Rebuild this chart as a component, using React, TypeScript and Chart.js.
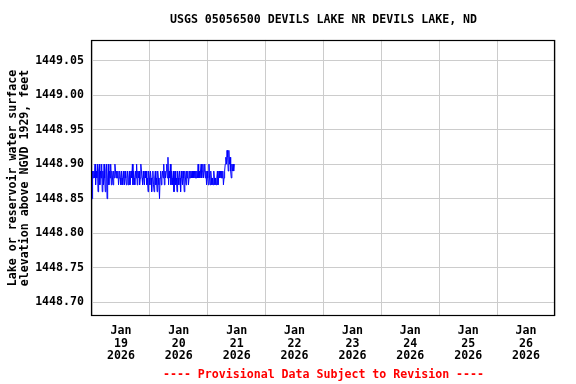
import React, { useEffect, useRef } from "react";
import { Chart, registerables } from "chart.js";

Chart.register(...registerables);

const chartTitle = "USGS 05056500 DEVILS LAKE NR DEVILS LAKE, ND";
const yAxisTitle = ["Lake or reservoir water surface", "elevation above NGVD 1929, feet"];
const footerText = "---- Provisional Data Subject to Revision ----";
const monthLabel = "Jan";
const yearLabel = "2026";
const dayLabels = ["19", "20", "21", "22", "23", "24", "25", "26"];
const yTickValues = [1448.7, 1448.75, 1448.8, 1448.85, 1448.9, 1448.95, 1449.0, 1449.05];
const yMin = 1448.68;
const yMax = 1449.08;
const intervalMinutes = 15;

// 15-minute lake elevation readings, starting Jan 19 2026 00:00
const elevation = [
  1448.85, 1448.89, 1448.88, 1448.89, 1448.88, 1448.90, 1448.87, 1448.89, 1448.88, 1448.90, 1448.86, 1448.89, 1448.90, 1448.87, 1448.89, 1448.88, 1448.90,
  1448.86, 1448.89, 1448.87, 1448.90, 1448.88, 1448.86, 1448.89, 1448.90, 1448.85, 1448.88, 1448.90, 1448.87, 1448.89, 1448.88, 1448.90, 1448.87, 1448.89,
  1448.88, 1448.87, 1448.89, 1448.88, 1448.90, 1448.89, 1448.88, 1448.89, 1448.88, 1448.89, 1448.87, 1448.88, 1448.89, 1448.88, 1448.87, 1448.89,
  1448.88, 1448.87, 1448.89, 1448.88, 1448.87, 1448.89, 1448.88, 1448.87, 1448.88, 1448.89, 1448.87, 1448.88, 1448.89, 1448.87, 1448.88, 1448.89, 1448.88,
  1448.90, 1448.87, 1448.89, 1448.88, 1448.87, 1448.89, 1448.88, 1448.90, 1448.87, 1448.89, 1448.88, 1448.89, 1448.87, 1448.88, 1448.90, 1448.89, 1448.88,
  1448.87, 1448.89, 1448.88, 1448.87, 1448.89, 1448.88, 1448.89, 1448.87, 1448.88, 1448.86, 1448.89, 1448.88, 1448.87, 1448.89, 1448.88, 1448.86,
  1448.88, 1448.89, 1448.87, 1448.86, 1448.88, 1448.89, 1448.87, 1448.88, 1448.86, 1448.89, 1448.88, 1448.87, 1448.85, 1448.88, 1448.89, 1448.87, 1448.88,
  1448.89, 1448.88, 1448.90, 1448.87, 1448.89, 1448.88, 1448.89, 1448.90, 1448.88, 1448.91, 1448.87, 1448.89, 1448.88, 1448.90, 1448.87, 1448.89,
  1448.88, 1448.87, 1448.89, 1448.86, 1448.88, 1448.89, 1448.87, 1448.88, 1448.86, 1448.89, 1448.88, 1448.87, 1448.89, 1448.88, 1448.86, 1448.89, 1448.88,
  1448.87, 1448.89, 1448.88, 1448.86, 1448.89, 1448.88, 1448.87, 1448.89, 1448.88, 1448.89, 1448.87, 1448.88, 1448.89, 1448.88, 1448.89, 1448.88, 1448.89,
  1448.88, 1448.89, 1448.88, 1448.89, 1448.88, 1448.89, 1448.88, 1448.89, 1448.88, 1448.90, 1448.88, 1448.89, 1448.88, 1448.89, 1448.90, 1448.88,
  1448.89, 1448.90, 1448.88, 1448.89, 1448.90, 1448.88, 1448.89, 1448.87, 1448.89, 1448.88, 1448.87, 1448.90, 1448.88, 1448.87, 1448.89, 1448.88, 1448.87,
  1448.88, 1448.87, 1448.89, 1448.88, 1448.87, 1448.88, 1448.87, 1448.88, 1448.89, 1448.87, 1448.88, 1448.89, 1448.88, 1448.89, 1448.88, 1448.89, 1448.88,
  1448.89, 1448.87, 1448.88, 1448.89, 1448.90, 1448.91, 1448.90, 1448.92, 1448.91, 1448.89, 1448.92, 1448.90, 1448.91, 1448.89, 1448.88, 1448.90,
  1448.89, 1448.90, 1448.89, 1448.90,
];

const FONT = "'DejaVu Sans Mono', monospace";

const frameBorder = {
  id: "frameBorder",
  afterDraw(chart: any) {
    const { ctx, chartArea } = chart;
    const l = Math.round(chartArea.left) - 0.5;
    const t = Math.round(chartArea.top) + 0.5;
    const r = Math.round(chartArea.right) - 0.5;
    const b = Math.round(chartArea.bottom) - 0.5;
    ctx.save();
    ctx.strokeStyle = "#000000";
    ctx.lineWidth = 1.2;
    ctx.strokeRect(l, t, r - l, b - t);
    ctx.restore();
  },
};

export default function App() {
  const canvasRef = useRef<HTMLCanvasElement | null>(null);

  useEffect(() => {
    if (!canvasRef.current) return;
    const points = elevation.map((v, i) => ({ x: (i * intervalMinutes) / 1440, y: v }));
    const chart = new Chart(canvasRef.current, {
      type: "line",
      data: {
        datasets: [
          {
            data: points,
            borderColor: "#0000ff",
            borderWidth: 1,
            pointRadius: 0,
            tension: 0,
            fill: false,
          },
        ],
      },
      options: {
        animation: false,
        responsive: false,
        maintainAspectRatio: false,
        layout: { padding: { left: 0, right: 21, top: 0, bottom: 0 } },
        plugins: {
          legend: { display: false },
          tooltip: { enabled: false },
          title: {
            display: true,
            fullSize: false,
            text: chartTitle,
            color: "#000000",
            font: { family: FONT, size: 11.6, weight: "bold", lineHeight: 1.2 },
            padding: { top: 13, bottom: 13 },
          },
        },
        scales: {
          x: {
            type: "linear",
            min: 0,
            max: dayLabels.length,
            afterBuildTicks: (scale: any) => {
              scale.ticks = dayLabels.map((_, i) => ({ value: i + 0.5 }));
            },
            afterFit: (scale: any) => {
              scale.height = 68;
            },
            grid: { display: true, offset: true, color: "#cccccc", lineWidth: 1, drawTicks: false },
            border: { display: false },
            ticks: {
              autoSkip: false,
              maxRotation: 0,
              padding: 8,
              color: "#000000",
              font: { family: FONT, size: 11.6, weight: "bold", lineHeight: 1.12 },
              callback: (_v: any, index: number) => [monthLabel, dayLabels[index], yearLabel],
            },
            title: {
              display: true,
              text: footerText,
              color: "#ff0000",
              font: { family: FONT, size: 11.6, weight: "bold", lineHeight: 1.12 },
              padding: { top: 0, bottom: 2.5 },
            },
          },
          y: {
            type: "linear",
            min: yMin,
            max: yMax,
            afterBuildTicks: (scale: any) => {
              scale.ticks = yTickValues.map((v) => ({ value: v }));
            },
            afterFit: (scale: any) => {
              scale.width = 92;
            },
            grid: { display: true, color: "#cccccc", lineWidth: 1, drawTicks: false },
            border: { display: false },
            ticks: {
              padding: 8,
              color: "#000000",
              font: { family: FONT, size: 11.6, weight: "bold" },
              callback: (v: any) => Number(v).toFixed(2),
            },
            title: {
              display: true,
              text: yAxisTitle,
              color: "#000000",
              font: { family: FONT, size: 11.6, weight: "bold", lineHeight: 1.07 },
              padding: { top: 6.5, bottom: 0 },
            },
          },
        },
      },
      plugins: [frameBorder],
    });
    return () => chart.destroy();
  }, []);

  return (
    <div style={{ position: "fixed", left: 0, top: 0, width: 576, height: 384, background: "#ffffff" }}>
      <canvas ref={canvasRef} width={576} height={384} />
    </div>
  );
}
